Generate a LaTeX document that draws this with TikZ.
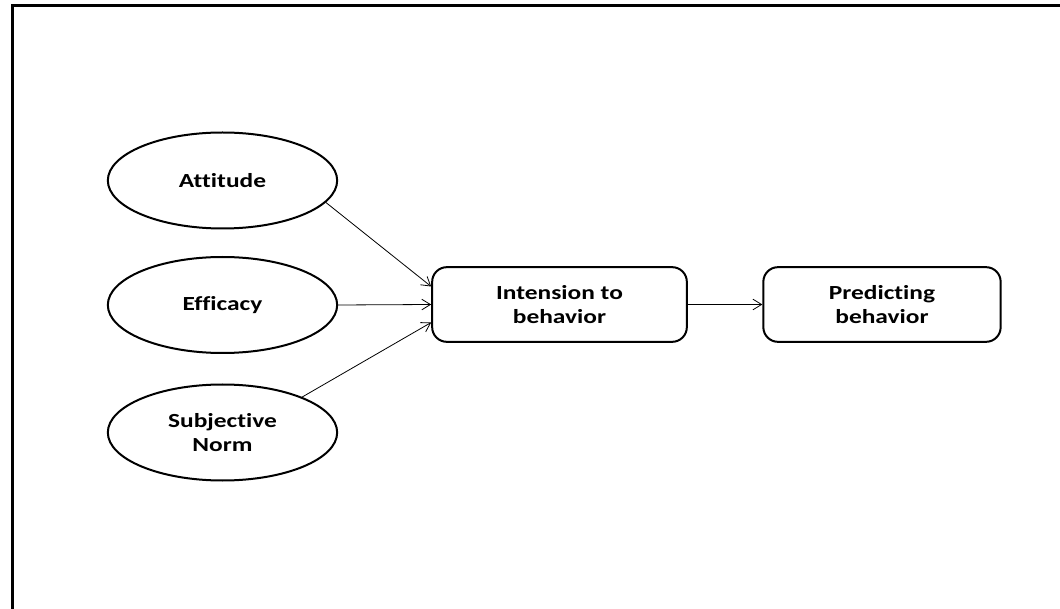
\documentclass[tikz,border=0pt]{standalone}
\usepackage{fontspec}
\setmainfont{Carlito}
\newfontfamily\lblfont{Carlito}[FakeStretch=1.27, Ligatures=NoCommon]
\usetikzlibrary{shapes.geometric,arrows.meta}
\begin{document}
\begin{tikzpicture}[x=0.75pt,y=-0.75pt,
  lbl/.style={font=\lblfont\bfseries\fontsize{15pt}{18pt}\selectfont, align=center},
  oval/.style={ellipse, draw, line width=1.5pt, minimum width=172pt, minimum height=72pt, inner sep=0pt, lbl},
  rbox/.style={draw, rounded corners=11pt, line width=1.5pt, minimum height=56pt, inner sep=0pt, lbl},
  conn/.style={line width=0.6pt, -{Straight Barb[length=6.5pt,width=8pt]}}]
\useasboundingbox (0,0) rectangle (1060,609);
\draw[line width=2.25pt] (12,609) -- (12,6) -- (1060,6);
\node[oval] (att) at (222.5,180.5) {Attitude};
\node[oval] (eff) at (222.5,305) {Efficacy};
\node[oval] (sub) at (222.5,432.5) {Subjective\\Norm};
\node[rbox, minimum width=191pt] (int) at (559.5,304.5) {Intension to\\behavior};
\node[rbox, minimum width=178pt] (pre) at (882,304.5) {Predicting\\behavior};
\coordinate (intA) at ([yshift=13.5pt]int.west);
\coordinate (intC) at ([yshift=-13.5pt]int.west);
\draw[conn] (att.-12) -- (intA);
\draw[conn] (eff.east) -- (int.west);
\draw[conn] (sub.24) -- (intC);
\draw[conn] (int.east) -- (pre.west);
\end{tikzpicture}
\end{document}
